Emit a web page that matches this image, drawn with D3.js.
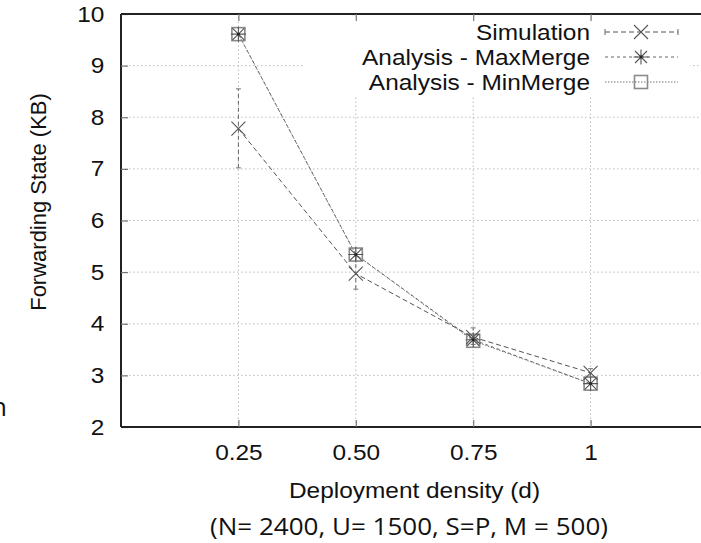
<!DOCTYPE html>
<html>
<head>
<meta charset="utf-8">
<script src="https://cdn.jsdelivr.net/npm/d3@7"></script>
<style>
  html, body { margin: 0; padding: 0; background: #fff; }
  svg { display: block; }
  text { fill: #111; }
</style>
</head>
<body>
<script>
// Forwarding state vs. deployment density
const density = [0.25, 0.50, 0.75, 1];
const xTickLabels = ["0.25", "0.50", "0.75", "1"];
const yTicks = [2, 3, 4, 5, 6, 7, 8, 9, 10];

const simulation = [7.78, 4.97, 3.74, 3.05];
const simLow     = [7.02, 4.67, 3.60, 2.97];
const simHigh    = [8.55, 5.30, 3.92, 3.13];
const maxMerge   = [9.61, 5.34, 3.69, 2.84];
const minMerge   = [9.61, 5.34, 3.67, 2.84];

const seriesNames = ["Simulation", "Analysis - MaxMerge", "Analysis - MinMerge"];

const W = 701, H = 543;
const margin = { left: 121, top: 14, right: 708, bottom: 427 };
const SANS = "'Liberation Sans', Arial, sans-serif";
const STRETCH = 1.11; // horizontal text widening

const svg = d3.select("body").append("svg")
  .attr("width", W).attr("height", H);

const x = d3.scaleLinear().domain([0, 1.25]).range([margin.left, margin.right]);
const y = d3.scaleLinear().domain([2, 10]).range([margin.bottom, margin.top]);

// places widened horizontal text at (px, py)
function wideText(g, px, py, str, size, anchor) {
  return g.append("text")
    .attr("transform", `translate(${px},${py}) scale(${STRETCH},1)`)
    .attr("text-anchor", anchor || "start")
    .style("font-family", SANS).style("font-size", size + "px")
    .text(str);
}

// grid
const grid = svg.append("g").attr("stroke", "#bdbdbd").attr("stroke-width", 1)
  .attr("stroke-dasharray", "1.5,2.5").attr("fill", "none");
yTicks.slice(1, -1).forEach(v => {
  grid.append("line").attr("x1", margin.left).attr("x2", margin.right)
    .attr("y1", y(v)).attr("y2", y(v));
});
density.forEach(v => {
  grid.append("line").attr("x1", x(v)).attr("x2", x(v))
    .attr("y1", margin.bottom).attr("y2", margin.top);
});

// legend background hides the grid underneath
svg.append("rect").attr("x", 305).attr("y", margin.top + 1)
  .attr("width", 385).attr("height", 81).attr("fill", "#fff");

// axes with inward ticks
const axisLeft = d3.axisLeft(y).tickValues(yTicks).tickSize(-7).tickPadding(15)
  .tickFormat(d3.format("d"));
const axisBottom = d3.axisBottom(x).tickValues(density).tickSize(-7).tickPadding(17)
  .tickFormat((d, i) => xTickLabels[i]);
const axisTop = d3.axisTop(x).tickValues(density).tickSize(-7).tickFormat("");

function styleAxis(g) {
  g.select(".domain").attr("stroke", "#222").attr("stroke-width", 2);
  g.selectAll(".tick line").attr("stroke", "#777").attr("stroke-width", 1.2);
  g.selectAll(".tick text")
    .style("font-family", SANS).style("font-size", "22px").style("fill", "#111")
    .attr("transform", `scale(${STRETCH},1)`);
}

svg.append("g").attr("transform", `translate(${margin.left},0)`)
  .call(axisLeft).call(styleAxis)
  .call(g => g.select(".domain").attr("d", `M0,${margin.bottom}V${margin.top}`));
svg.append("g").attr("transform", `translate(0,${margin.bottom})`)
  .call(axisBottom).call(styleAxis)
  .call(g => g.select(".domain").attr("d", `M${margin.left},0H${margin.right}`));
svg.append("g").attr("transform", `translate(0,${margin.top})`)
  .call(axisTop).call(styleAxis)
  .call(g => g.select(".domain").attr("d", `M${margin.left},0H${margin.right}`));

// markers
function crossMark(g, cx, cy, r, color) {
  g.append("path").attr("d", `M${cx - r},${cy - r}L${cx + r},${cy + r}M${cx - r},${cy + r}L${cx + r},${cy - r}`)
    .attr("stroke", color).attr("stroke-width", 1.1).attr("fill", "none");
}
function starMark(g, cx, cy, r, color) {
  g.append("path").attr("d",
    `M${cx - r},${cy - r}L${cx + r},${cy + r}M${cx - r},${cy + r}L${cx + r},${cy - r}` +
    `M${cx},${cy - r * 1.25}V${cy + r * 1.25}M${cx - r * 1.25},${cy}H${cx + r * 1.25}`)
    .attr("stroke", color).attr("stroke-width", 1.1).attr("fill", "none");
  g.append("circle").attr("cx", cx).attr("cy", cy).attr("r", 1.4).attr("fill", "#222");
}
function squareMark(g, cx, cy, r, color) {
  g.append("rect").attr("x", cx - r).attr("y", cy - r).attr("width", 2 * r).attr("height", 2 * r)
    .attr("stroke", color).attr("stroke-width", 1.6).attr("fill", "none");
}

const line = d3.line().x(d => x(d[0])).y(d => y(d[1]));
const plot = svg.append("g");

const simStyle = { color: "#555", dash: "5,3" };
const maxStyle = { color: "#666", dash: "3,3" };
const minStyle = { color: "#777", dash: "1.5,1.5" };

// Simulation: dashed line with error bars
plot.append("path").datum(density.map((d, i) => [d, simulation[i]]))
  .attr("d", line).attr("fill", "none").attr("stroke", simStyle.color)
  .attr("stroke-width", 1).attr("stroke-dasharray", simStyle.dash);
density.forEach((d, i) => {
  plot.append("line").attr("x1", x(d)).attr("x2", x(d))
    .attr("y1", y(simLow[i])).attr("y2", y(simHigh[i]))
    .attr("stroke", "#666").attr("stroke-width", 1).attr("stroke-dasharray", "4,3");
  [simLow[i], simHigh[i]].forEach(v => {
    plot.append("line").attr("x1", x(d) - 2.5).attr("x2", x(d) + 2.5)
      .attr("y1", y(v)).attr("y2", y(v)).attr("stroke", "#777").attr("stroke-width", 1);
  });
});

plot.append("path").datum(density.map((d, i) => [d, maxMerge[i]]))
  .attr("d", line).attr("fill", "none").attr("stroke", maxStyle.color)
  .attr("stroke-width", 1).attr("stroke-dasharray", maxStyle.dash);
plot.append("path").datum(density.map((d, i) => [d, minMerge[i]]))
  .attr("d", line).attr("fill", "none").attr("stroke", minStyle.color)
  .attr("stroke-width", 1).attr("stroke-dasharray", minStyle.dash);

density.forEach((d, i) => squareMark(plot, x(d), y(minMerge[i]), 6.5, "#8a8a8a"));
density.forEach((d, i) => starMark(plot, x(d), y(maxMerge[i]), 6, "#555"));
density.forEach((d, i) => crossMark(plot, x(d), y(simulation[i]), 7, "#555"));

// legend
const legend = svg.append("g");
const rowY = [32, 57, 82];
const sx1 = 605, sx2 = 678, smid = 641;
seriesNames.forEach((name, i) => {
  wideText(legend, 590, rowY[i] + 8, name, 22, "end");
});
legend.append("line").attr("x1", sx1).attr("x2", sx2).attr("y1", rowY[0]).attr("y2", rowY[0])
  .attr("stroke", simStyle.color).attr("stroke-dasharray", simStyle.dash);
[sx1, sx2].forEach(xx => legend.append("line").attr("x1", xx).attr("x2", xx)
  .attr("y1", rowY[0] - 3).attr("y2", rowY[0] + 3).attr("stroke", "#666"));
crossMark(legend, smid, rowY[0], 7, "#555");
legend.append("line").attr("x1", sx1).attr("x2", sx2).attr("y1", rowY[1]).attr("y2", rowY[1])
  .attr("stroke", maxStyle.color).attr("stroke-dasharray", maxStyle.dash);
starMark(legend, smid, rowY[1], 6, "#555");
legend.append("line").attr("x1", sx1).attr("x2", sx2).attr("y1", rowY[2]).attr("y2", rowY[2])
  .attr("stroke", minStyle.color).attr("stroke-dasharray", minStyle.dash);
squareMark(legend, smid, rowY[2], 6.5, "#8a8a8a");

// axis titles
wideText(svg, (margin.left + margin.right) / 2, 498, "Deployment density (d)", 22, "middle");
svg.append("text").attr("transform", "translate(46,202) rotate(-90)")
  .attr("text-anchor", "middle")
  .style("font-family", SANS).style("font-size", "22px")
  .text("Forwarding State (KB)");

// caption beneath the chart
svg.append("text").attr("x", 210).attr("y", 535)
  .attr("textLength", 398).attr("lengthAdjust", "spacingAndGlyphs")
  .style("font-family", "'Open Sans', Lato, sans-serif").style("font-size", "24px")
  .text("(N= 2400, U= 1500, S=P, M = 500)");
svg.append("text").attr("x", -9).attr("y", 416)
  .style("font-family", "'Open Sans', Lato, sans-serif").style("font-size", "26px")
  .text("n");
</script>
</body>
</html>
